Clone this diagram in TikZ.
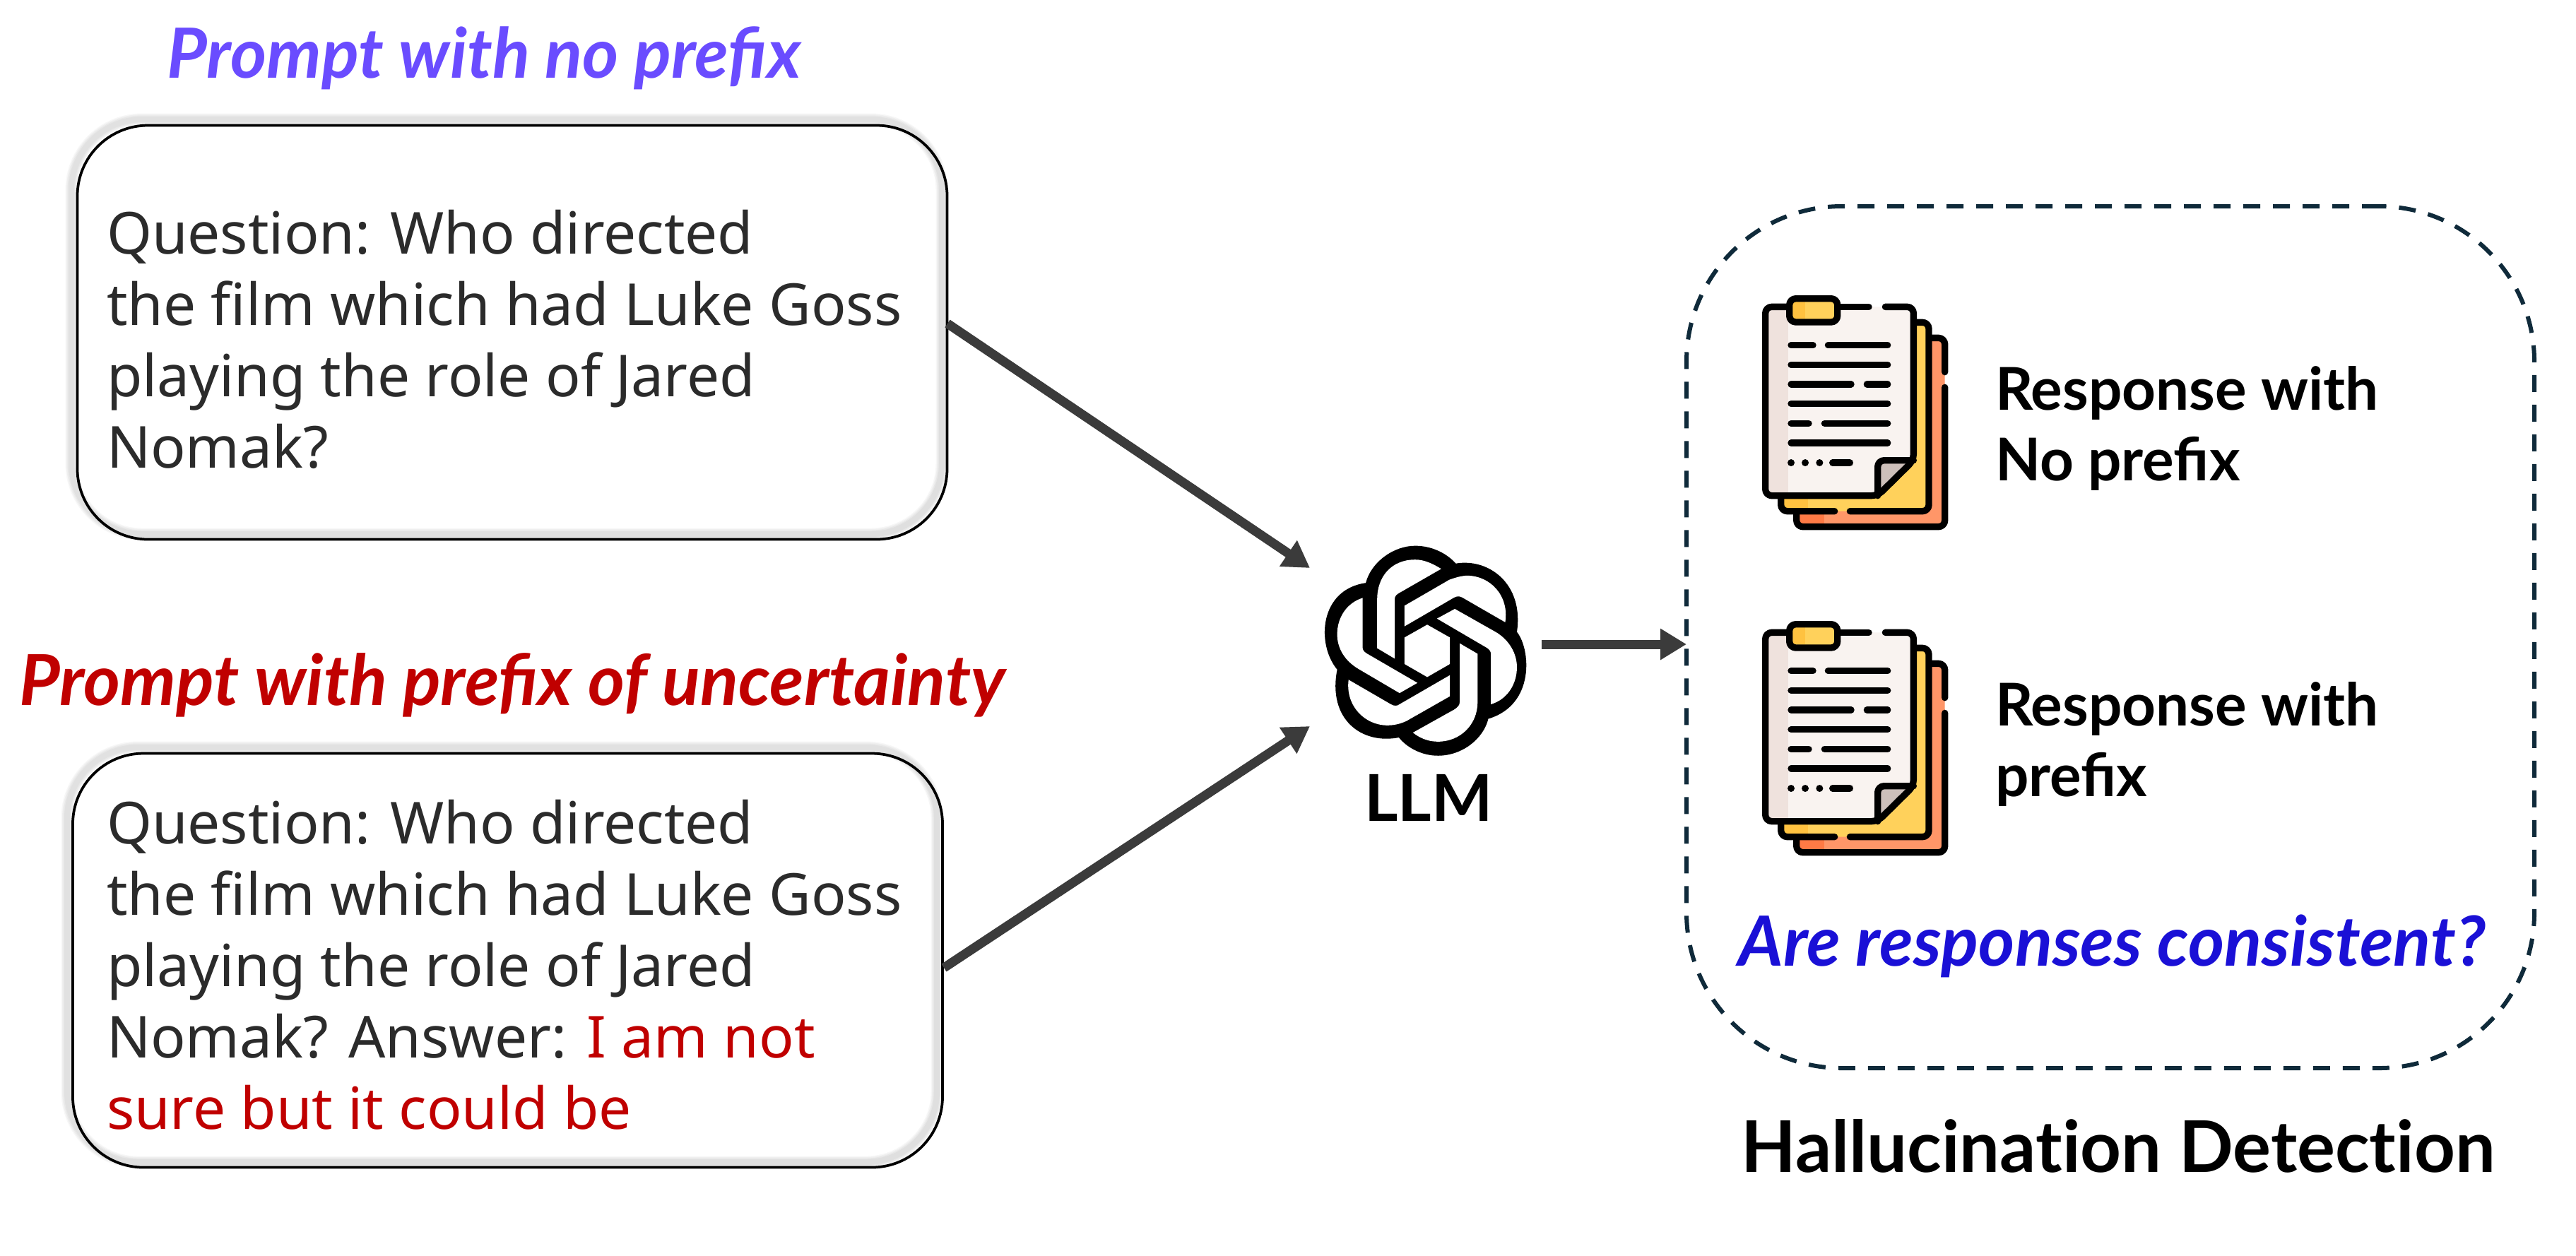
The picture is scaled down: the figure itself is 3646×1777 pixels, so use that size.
\documentclass[tikz,border=0pt]{standalone}
\usepackage{fontspec}
\setmainfont{Lato}
\newfontfamily\handfont{Noto Sans}
\usetikzlibrary{arrows.meta}
\definecolor{inkgray}{HTML}{2B2B2B}
\definecolor{arrowgray}{HTML}{3B3B3B}
\definecolor{dashnavy}{HTML}{0F2A3A}
\definecolor{titlepurple}{HTML}{6A4CFF}
\definecolor{titlered}{HTML}{C00000}
\definecolor{titleblue}{HTML}{1A10D6}
\definecolor{docorange}{HTML}{FF9668}
\definecolor{docorangedark}{HTML}{FF7A45}
\definecolor{docyellow}{HTML}{FFD15B}
\definecolor{docyellowdark}{HTML}{FFC240}
\definecolor{docpaper}{HTML}{F9F3F0}
\definecolor{docpaperdark}{HTML}{EFE2DD}
\definecolor{docfold}{HTML}{CDC0BB}
\tikzset{
  promptbox/.style={draw=black,line width=0.75pt,rounded corners=20pt,
    minimum width=246.2pt,minimum height=117.2pt},
  prompttext/.style={anchor=west,inner sep=0pt,align=left,text=inkgray,
    font=\handfont\fontsize{16.4}{20.2}\selectfont},
  softedge/.style={draw=black,opacity=0.03,rounded corners=20pt},
  flowarrow/.style={draw=arrowgray,line width=2.6pt,-{Triangle[length=7.4pt,width=8.4pt]}},
  titletext/.style={font=\fontsize{19.6}{22}\selectfont\bfseries\itshape},
  resptext/.style={font=\fontsize{16.7}{20}\selectfont\bfseries,align=left,anchor=west,inner sep=0pt},
  dl/.style={line width=1.87pt,line cap=round,line join=round,draw=black,rounded corners=1.8pt}
}
% the grey band lies about 8px up and left of the box outline
\newcommand{\softbox}[4]{%
  \fill[white,rounded corners=20pt] (#1,#2) rectangle (#3,#4);
  \foreach \w in {3.4,2.8,2.2,1.6}{%
    \draw[softedge,line width=\w pt] (#1-8,#2-8) rectangle (#3-8,#4-8);}}
\newcommand{\docicon}[2]{%
\begin{scope}[shift={(#1,#2)},x=0.06667pt,y=-0.06667pt]
  % back page
  \fill[docorange,rounded corners=1.8pt] (428,295) rectangle (1058,1097);
  \fill[docorangedark] (442,1031) rectangle (546,1083);
  \draw[dl] (1058,505) -- (1058,1097) -- (428,1097) -- (428,1020);
  \draw[dl] (1058,440) -- (1058,295) -- (980,295);
  % middle page
  \fill[docyellow,rounded corners=1.8pt] (362,229) rectangle (990,1031);
  \fill[docyellowdark] (376,965) rectangle (478,1017);
  \draw[dl] (655,1031) -- (990,1031) -- (990,229) -- (915,229);
  \draw[dl] (590,1031) -- (362,1031) -- (362,950);
  % front page
  \fill[docpaper,rounded corners=1.8pt] (296,163) -- (925,163) -- (925,815) -- (773,965) -- (296,965) -- cycle;
  \fill[docpaperdark] (310,177) rectangle (393,951);
  \fill[docfold] (773,815) -- (925,815) -- (773,965) -- cycle;
  \draw[dl] (805,163) -- (925,163) -- (925,815) -- (773,965) -- (296,965) -- (296,163) -- (398,163);
  \draw[dl] (602,163) -- (735,163);
  \draw[dl] (773,965) -- (773,815) -- (925,815);
  % clip
  \fill[docyellow] (398,128) rectangle (602,228);
  \fill[docyellowdark] (412,142) rectangle (465,214);
  \draw[dl] (398,128) rectangle (602,228);
  % text lines
  \draw[dl] (405,326) -- (498,326) (562,326) -- (815,326)
            (405,409) -- (815,409)
            (405,492) -- (660,492) (727,492) -- (815,492)
            (405,575) -- (815,575)
            (405,658) -- (480,658) (547,658) -- (815,658)
            (405,741) -- (815,741)
            (581,825) -- (655,825);
  \fill (405,825) circle (15) (465,825) circle (15) (526,825) circle (15);
\end{scope}}
\begin{document}
\begin{tikzpicture}[x=0.2pt,y=-0.2pt]
\useasboundingbox (0,0) rectangle (3646,1777);
% titles
\node[titletext,text=titlepurple] (t1) at (685,82) {Prompt with no prefix};
\node[titletext,text=titlered,font=\fontsize{19.9}{22}\selectfont\bfseries\itshape] (t2) at (725,970) {Prompt with prefix of uncertainty};
% prompt boxes
\softbox{109}{177}{1341}{764}
\softbox{103}{1066}{1334}{1653}
\node[promptbox] (p1) at (725,470.5) {};
\node[promptbox] (p2) at (718.5,1359.5) {};
\node[prompttext] (p1text) at (150,480) {Question: Who directed\\the film which had Luke Goss\\playing the role of Jared\\Nomak?};
\node[prompttext] (p2text) at (150,1366) {Question: Who directed\\the film which had Luke Goss\\playing the role of Jared\\Nomak? Answer: \textcolor{titlered}{I am not}\\\textcolor{titlered}{sure but it could be}};
% logo
\begin{scope}[shift={(2020,921)},x=0.092pt,y=-0.0687pt,shift={(-532,-597)}]
  \fill[black] (620,238) .. controls (720,215) and (830,320) .. (808,520)
    .. controls (850,590) and (865,820) .. (720,878)
    .. controls (705,960) and (640,1030) .. (565,1030)
    .. controls (510,1030) and (465,990) .. (445,955)
    .. controls (330,985) and (225,880) .. (255,675)
    .. controls (190,570) and (200,345) .. (343,318)
    .. controls (360,230) and (430,165) .. (495,165)
    .. controls (550,165) and (595,200) .. (620,238) -- cycle;
  \fill[white] (575,260) .. controls (545,235) and (520,222) .. (495,222)
    .. controls (420,222) and (378,295) .. (378,385) -- (378,587) -- (432,630) -- (432,385)
    .. controls (432,372) and (438,365) .. (445,360) -- cycle;
  \fill[white] (462,412) -- (600,305) .. controls (620,295) and (640,288) .. (655,288)
    .. controls (725,288) and (785,370) .. (772,480) -- (640,378)
    .. controls (632,372) and (624,372) .. (615,378) -- (462,497) -- cycle;
  \fill[white] (562,465) -- (617,425) -- (745,522) .. controls (785,555) and (808,610) .. (808,665)
    .. controls (808,740) and (775,800) .. (728,818) -- (728,610)
    .. controls (728,600) and (722,590) .. (715,585) -- cycle;
  \fill[white] (632,567) -- (687,610) -- (687,810) .. controls (687,900) and (635,972) .. (565,972)
    .. controls (535,972) and (510,958) .. (488,935) -- (615,840)
    .. controls (625,832) and (632,822) .. (632,810) -- cycle;
  \fill[white] (602,698) -- (602,785) -- (480,878) .. controls (460,895) and (435,905) .. (410,905)
    .. controls (340,905) and (280,825) .. (290,717) -- (420,818)
    .. controls (430,826) and (440,826) .. (447,818) -- cycle;
  \fill[white] (333,380) -- (333,585) .. controls (335,598) and (338,603) .. (345,608)
    -- (502,730) -- (447,772) -- (320,672) .. controls (280,640) and (255,590) .. (255,530)
    .. controls (255,460) and (285,400) .. (333,380) -- cycle;
  \fill[white] (532,490) -- (602,543) -- (602,652) -- (532,706) -- (462,652) -- (462,543) -- cycle;
\end{scope}
\node[font=\fontsize{18.3}{20}\selectfont\bfseries] (llm) at (2022,1129) {LLM};
\coordinate (p1out) at (1341,458);
\coordinate (p2out) at (1336,1370);
\coordinate (in1) at (1854,804);
\coordinate (in2) at (1854,1028);
\coordinate (llmout) at (2182,912);
\coordinate (dashin) at (2387,912);
\draw[flowarrow] (p1out) -- (in1);
\draw[flowarrow] (p2out) -- (in2);
\draw[flowarrow] (llmout) -- (dashin);
% detection box
\node[draw=dashnavy,line width=1.2pt,dash pattern=on 4.8pt off 3.6pt,rounded corners=44pt,
  minimum width=240pt,minimum height=244pt] (det) at (2987,902) {};
\docicon{2400}{380}
\docicon{2400}{841}
\node[resptext] (r1) at (2823,606) {Response with\\No prefix};
\node[resptext] (r2) at (2823,1053) {Response with\\prefix};
\node[titletext,text=titleblue] (q) at (2989,1339) {Are responses consistent?};
\node[font=\fontsize{20.2}{22}\selectfont\bfseries] (hd) at (2998,1622) {Hallucinat\kern0pt ion Detect\kern0pt ion};
\end{tikzpicture}
\end{document}
